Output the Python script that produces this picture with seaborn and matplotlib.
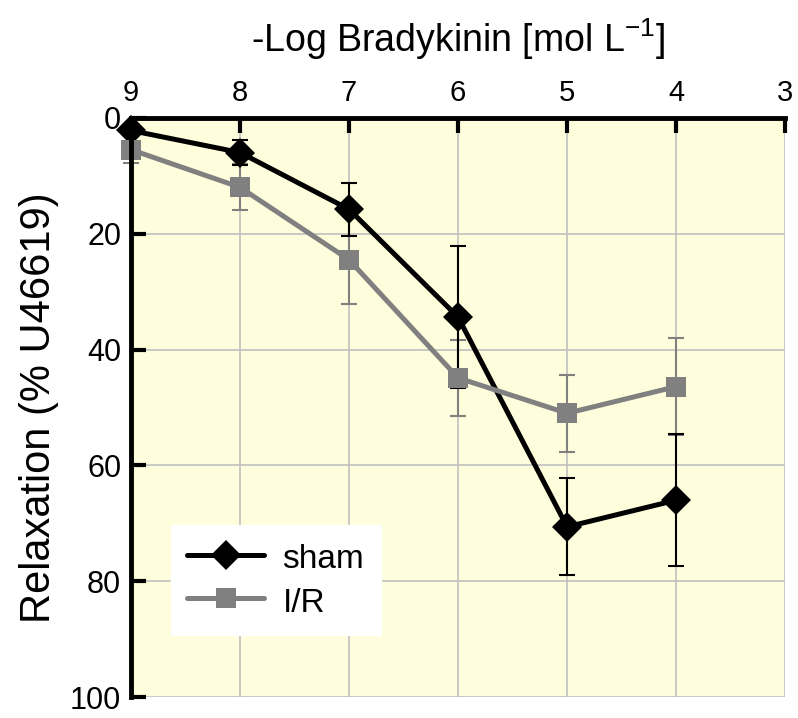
import numpy as np
import pandas as pd
import matplotlib
matplotlib.use("Agg")
import matplotlib.pyplot as plt
import seaborn as sns

# -log concentration of bradykinin
conc = [9, 8, 7, 6, 5, 4]
sham = [2.2, 6.0, 15.8, 34.4, 70.6, 66.0]
sham_err = [1.0, 2.1, 4.6, 12.3, 8.4, 11.4]
ir = [5.5, 12.0, 24.5, 44.9, 51.0, 46.4]
ir_err = [2.3, 4.0, 7.7, 6.6, 6.6, 8.4]

sns.set_style("ticks")
plt.rcParams['font.family'] = ['Liberation Sans', 'DejaVu Sans']
plt.rcParams.update({'text.color': 'black', 'axes.labelcolor': 'black',
                     'xtick.color': 'black', 'ytick.color': 'black',
                     'axes.edgecolor': 'black'})

fig = plt.figure(figsize=(7.98, 7.18), dpi=100)
ax = fig.add_axes([0.164, 0.029, 0.82, 0.807])
ax.set_facecolor('#fefedc')

df = pd.DataFrame({'conc': conc * 2,
                   'val': sham + ir,
                   'group': ['sham'] * 6 + ['I/R'] * 6})

# error bars first, thin
ax.errorbar(conc, ir, yerr=ir_err, fmt='none', ecolor='#808080',
            elinewidth=1.5, capsize=6, capthick=1.5, zorder=3, clip_on=False)
ax.errorbar(conc, sham, yerr=sham_err, fmt='none', ecolor='black',
            elinewidth=1.5, capsize=6, capthick=1.5, zorder=3, clip_on=False)

sns.lineplot(data=df, x='conc', y='val', hue='group', style='group',
             hue_order=['sham', 'I/R'], style_order=['sham', 'I/R'],
             palette={'sham': 'black', 'I/R': '#808080'},
             markers={'sham': 'D', 'I/R': 's'}, dashes=False,
             linewidth=3.6, markersize=15, markeredgewidth=0,
             ax=ax, zorder=4, clip_on=False)
for ln in ax.lines:
    if ln.get_marker() == 's':
        ln.set_markersize(14)

ax.set_xlim(9, 3)
ax.set_ylim(100, 0)
ax.set_xticks([9, 8, 7, 6, 5, 4, 3])
ax.set_yticks([0, 20, 40, 60, 80, 100])
ax.xaxis.tick_top()
ax.xaxis.set_label_position('top')
ax.tick_params(axis='x', direction='in', length=11, width=3, pad=8,
               labelsize=21)
ax.tick_params(axis='y', direction='in', length=11, width=3, pad=7,
               labelsize=22)

ax.grid(True, color='#c0c0c0', lw=1.2)
ax.set_axisbelow(True)
for s in ['bottom', 'right']:
    ax.spines[s].set_visible(False)
for s in ['top', 'left']:
    ax.spines[s].set_linewidth(3.5)
    ax.spines[s].set_zorder(5)

ax.set_xlabel('-Log Bradykinin [mol L$^{\\mathregular{-1}}$]', fontsize=27,
              labelpad=19)
ax.set_ylabel('Relaxation (% U46619)', fontsize=30, labelpad=8)

leg = ax.legend(loc='lower left', bbox_to_anchor=(0.061, 0.107), fontsize=24,
                frameon=True, fancybox=False, borderpad=0.5, handlelength=2.3,
                handleheight=1.0, labelspacing=0.3, handletextpad=0.55,
                title=None, borderaxespad=0)
leg.get_frame().set_facecolor('white')
leg.get_frame().set_edgecolor('white')
leg.get_frame().set_alpha(1)

fig.savefig('out.png', dpi=100)
